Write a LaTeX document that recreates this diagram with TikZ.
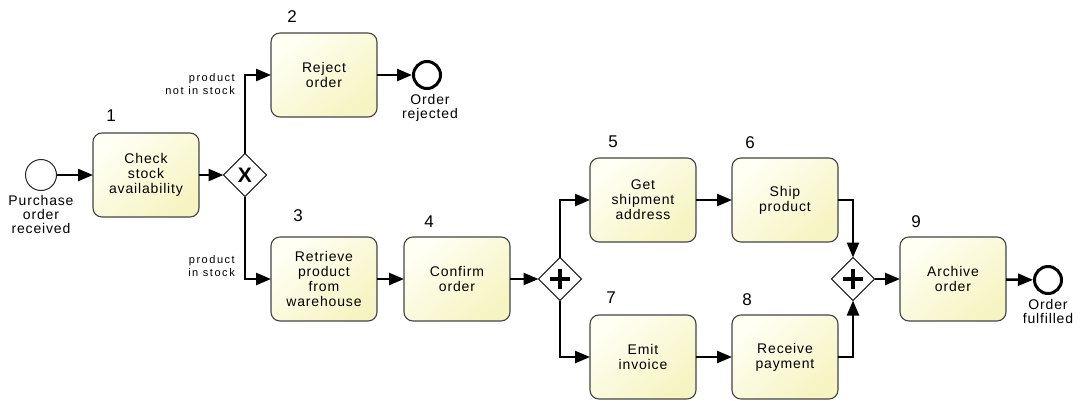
\documentclass[tikz,border=0pt]{standalone}
\usepackage{fontspec}
\setmainfont{Liberation Sans}
\newfontfamily\taskfont[LetterSpace=6]{Liberation Sans}
\newfontfamily\smallfont[LetterSpace=14]{Liberation Sans}
\usetikzlibrary{arrows.meta,shapes.geometric}

\definecolor{taskhi}{HTML}{FFFFF4}
\definecolor{tasklo}{HTML}{F6F4C2}
\definecolor{taskline}{HTML}{444444}

\tikzset{
  task/.style={draw=taskline, line width=1.1pt, rounded corners=9pt,
    minimum width=106pt, minimum height=84pt, text width=100pt,
    align=center, inner sep=0pt, outer sep=0pt,
    top color=taskhi, bottom color=tasklo, shading angle=40,
    font=\taskfont\fontsize{14}{15}\selectfont},
  startev/.style={circle, draw=black!85, line width=1pt, fill=white,
    minimum size=31pt, inner sep=0pt, outer sep=0pt},
  endev/.style={circle, draw=black, line width=3pt, fill=white,
    minimum size=27pt, inner sep=0pt, outer sep=1.5pt},
  gateway/.style={diamond, draw=black, line width=1pt, fill=white,
    minimum width=43pt, minimum height=43pt, inner sep=0pt, outer sep=0pt},
  flow/.style={line width=2.4pt, -{Triangle[length=15pt,width=12pt]}},
  plusbar/.style={line width=3.2pt},
  tasknum/.style={font=\fontsize{17}{17}\selectfont, inner sep=0pt},
  evlabel/.style={align=center, inner sep=0pt,
    font=\taskfont\fontsize{14}{14}\selectfont},
  condlabel/.style={align=right, inner sep=0pt,
    font=\smallfont\fontsize{11}{13}\selectfont}
}

\begin{document}
\begin{tikzpicture}[x=1pt,y=-1pt]
\useasboundingbox (0,0) rectangle (1080,400);

% events
\node[startev] (start) at (41,175) {};
\node[endev] (endrej) at (427,75) {};
\node[endev] (endok) at (1048,280) {};

% tasks
\node[task] (t1) at (146,175) {Check\\stock\\availability};
\node[task] (t2) at (324,75) {Reject\\order};
\node[task] (t3) at (324,279) {Retrieve\\product\\from\\warehouse};
\node[task] (t4) at (457,279) {Confirm\\order};
\node[task] (t5) at (643,200) {Get\\shipment\\address};
\node[task] (t6) at (785,200) {Ship\\product};
\node[task] (t7) at (643,357) {Emit\\invoice};
\node[task] (t8) at (785,357) {Receive\\payment};
\node[task] (t9) at (953,279) {Archive\\order};

% gateways
\node[gateway] (gx) at (245,175) {};
\node[font=\fontsize{21}{21}\selectfont\bfseries, inner sep=0pt] (gxmark) at (gx.center) {X};
\node[gateway] (fork) at (560,279) {};
\draw[plusbar] (fork.center) +(-10,0) -- +(10,0) (fork.center) +(0,-10) -- +(0,10);
\node[gateway] (join) at (853,279) {};
\draw[plusbar] (join.center) +(-10,0) -- +(10,0) (join.center) +(0,-10) -- +(0,10);

% task numbers
\node[tasknum] (n1) at (111,116) {1};
\node[tasknum] (n2) at (292,17) {2};
\node[tasknum] (n3) at (298,216) {3};
\node[tasknum] (n4) at (429,222) {4};
\node[tasknum] (n5) at (613,142) {5};
\node[tasknum] (n6) at (750,143) {6};
\node[tasknum] (n7) at (611,298) {7};
\node[tasknum] (n8) at (747,300) {8};
\node[tasknum] (n9) at (916,222) {9};

% event labels
\node[evlabel, anchor=north] (lstart) at (41,195) {Purchase\\order\\received};
\node[evlabel, anchor=north] (lrej) at (430,94) {Order\\rejected};
\node[evlabel, anchor=north] (lok) at (1048,299) {Order\\fulfilled};

% condition labels
\node[condlabel, anchor=east] (cno) at (235,84) {product\\not in stock};
\node[condlabel, anchor=east] (cyes) at (235,266) {product\\in stock};

% sequence flows
\draw[flow] (start) -- (t1);
\draw[flow] (t1) -- (gx);
\draw[flow] (gx.north) |- (t2.west);
\draw[flow] (gx.south) |- (t3.west);
\draw[flow] (t2) -- (endrej);
\draw[flow] (t3) -- (t4);
\draw[flow] (t4) -- (fork);
\draw[flow] (fork.north) |- (t5.west);
\draw[flow] (fork.south) |- (t7.west);
\draw[flow] (t5) -- (t6);
\draw[flow] (t7) -- (t8);
\draw[flow] (t6.east) -| (join.north);
\draw[flow] (t8.east) -| (join.south);
\draw[flow] (join) -- (t9);
\draw[flow] (t9) -- (endok);
\end{tikzpicture}
\end{document}
